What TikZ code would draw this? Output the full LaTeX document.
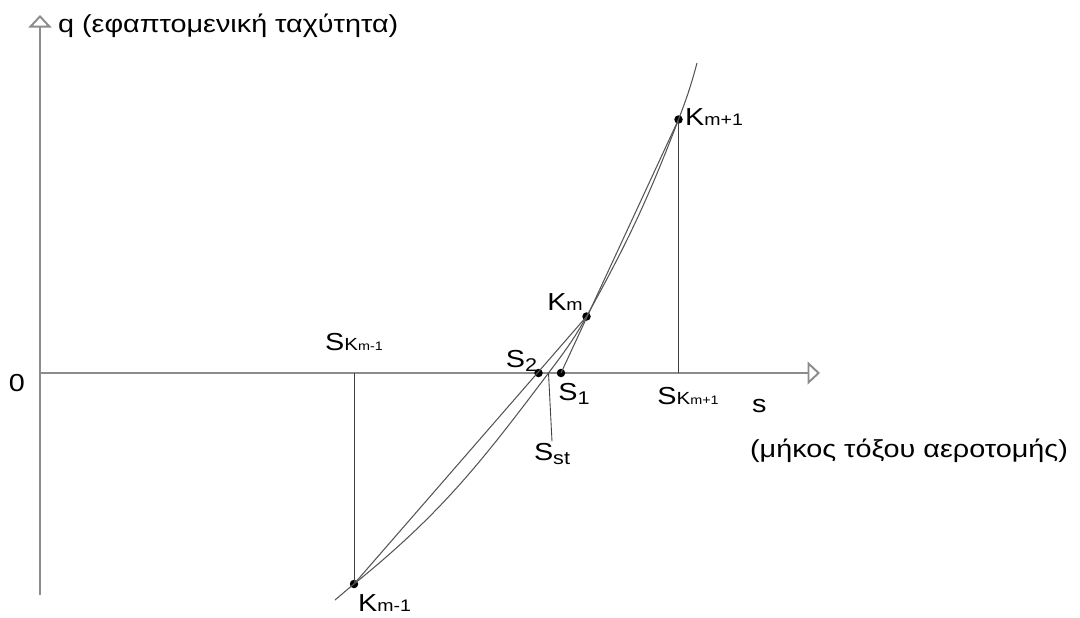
\documentclass[tikz,border=0pt]{standalone}
\usepackage{fontspec}
\setmainfont{Liberation Sans}[FakeStretch=1.17]
\usepackage{tikz}
\usetikzlibrary{arrows.meta, positioning}
\definecolor{axisgray}{HTML}{8C8C8C}
\definecolor{curvegray}{HTML}{555555}
\newcommand{\lbsub}[1]{{\fontsize{9.5}{10}\selectfont #1}}
\newcommand{\lbmid}[1]{{\fontsize{10}{11}\selectfont #1}}
\newcommand{\lbtiny}[1]{{\fontsize{7}{8}\selectfont #1}}
\newcommand{\lbdrop}[1]{\raisebox{-2pt}{\fontsize{10.5}{11}\selectfont #1}}

\begin{document}
\begin{tikzpicture}[
    axis/.style={draw=axisgray, line width=1.1pt, -{Triangle[open, length=2.5mm, width=4.6mm]}},
    fitline/.style={draw=curvegray, line width=0.6pt},
    drop/.style={draw=black!75, line width=0.5pt},
    pt/.style={circle, fill=black, inner sep=0pt, minimum size=1.7mm},
    lbl/.style={font=\fontsize{14}{16}\selectfont, inner sep=1pt}
]
\useasboundingbox (-0.8,-4.88) rectangle (20.8,7.46);

% axes
\coordinate (o) at (0,0);
\coordinate (xend) at (15.6,0);
\coordinate (ytop) at (0,7.16);
\coordinate (ybot) at (0,-4.44);
\draw[axis] (ybot) -- (ytop);
\draw[axis] (o) -- (xend);

% points
\node[pt] (kprev) at (6.28,-4.22) {};
\node[pt] (km) at (10.93,1.13) {};
\node[pt] (knext) at (12.77,5.07) {};
\node[pt] (stwo) at (9.97,0) {};
\node[pt] (sone) at (10.42,0) {};
\coordinate (sst) at (10.17,0);
\coordinate (fprev) at (6.28,0);
\coordinate (fnext) at (12.77,0);
\coordinate (fbot) at (5.9,-4.54);
\coordinate (ftop) at (13.14,6.2);

% curve and chords
\draw[fitline] (fbot) to[out=40,in=219] (kprev.center) to[out=39,in=233] (sst)
    to[out=53,in=241] (km.center) to[out=61,in=249] (knext.center) to[out=69,in=255] (ftop);
\draw[fitline] (kprev.center) -- (km.center);
\draw[fitline] (sone.center) -- (knext.center);
\draw[drop] (kprev.center) -- (fprev);
\draw[drop] (knext.center) -- (fnext);

% labels
\node[lbl] (lzero) at (-0.46,-0.2) {0};
\node[lbl, anchor=west] (lq) at (0.32,6.94) {q (εφαπτομενική ταχύτητα)};
\node[lbl] (lkprev) at (6.89,-4.6) {K\lbsub{m-1}};
\node[lbl] (lkm) at (10.5,1.42) {K\lbsub{m}};
\node[lbl] (lknext) at (13.48,5.11) {K\lbsub{m+1}};
\node[lbl] (lsprev) at (6.28,0.62) {S\lbmid{K}\lbtiny{m-1}};
\node[lbl] (lsnext) at (12.96,-0.46) {S\lbmid{K}\lbtiny{m+1}};
\node[lbl] (lstwo) at (9.63,0.24) {S\lbdrop{2}};
\node[lbl] (lsone) at (10.68,-0.42) {S\lbdrop{1}};
\node[lbl] (lsst) at (10.24,-1.62) {S\lbdrop{st}};
\node[lbl, anchor=west] (ls) at (14.2,-0.66) {s};
\node[lbl, anchor=west] (larc) at (14.16,-1.56) {(μήκος τόξου αεροτομής)};
\draw[drop] (sst) -- (lsst.north);
\end{tikzpicture}
\end{document}
